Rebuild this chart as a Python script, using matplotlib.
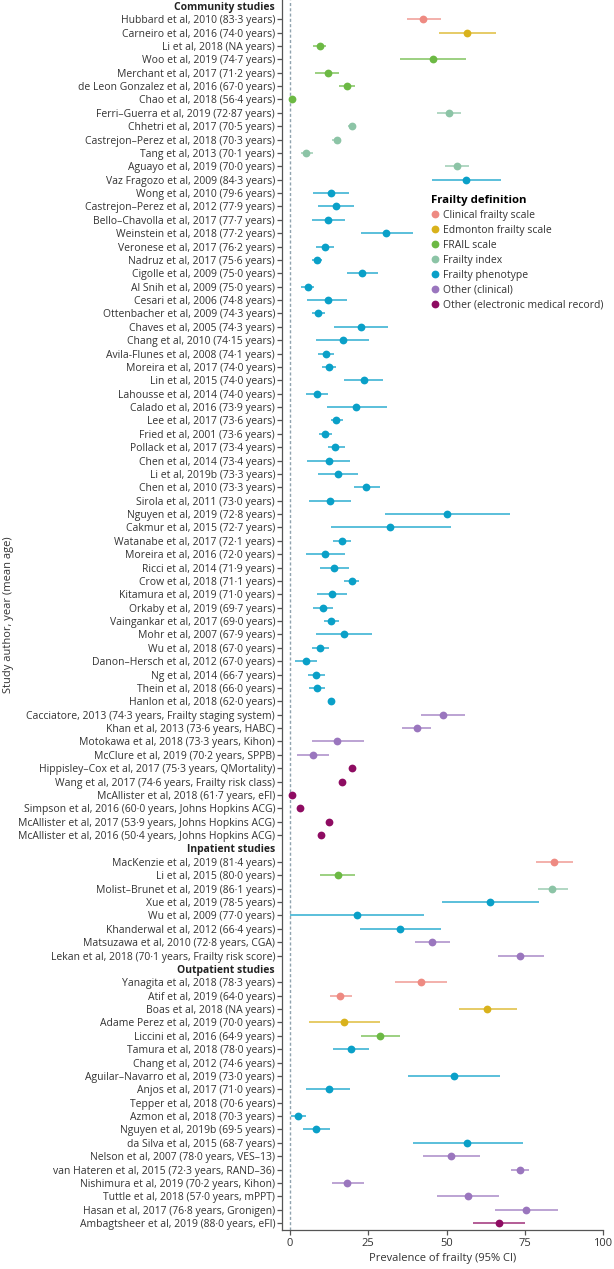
import numpy as np
import matplotlib
matplotlib.use("Agg")
import matplotlib.pyplot as plt
from matplotlib.lines import Line2D

plt.rcParams['font.family'] = ['Open Sans', 'DejaVu Sans']

definitions = ["Clinical frailty scale", "Edmonton frailty scale", "FRAIL scale",
               "Frailty index", "Frailty phenotype", "Other (clinical)",
               "Other (electronic medical record)"]
def_colors = ["#EE8A82", "#D9B21C", "#6CB944", "#8CC4A6", "#0AA0C8", "#9A76BE", "#8E0C62"]

sections = ["Community studies", "Inpatient studies", "Outpatient studies"]

studies = [
    # Community
    "Hubbard et al, 2010 (83·3 years)", "Carneiro et al, 2016 (74·0 years)",
    "Li et al, 2018 (NA years)", "Woo et al, 2019 (74·7 years)",
    "Merchant et al, 2017 (71·2 years)", "de Leon Gonzalez et al, 2016 (67·0 years)",
    "Chao et al, 2018 (56·4 years)", "Ferri–Guerra et al, 2019 (72·87 years)",
    "Chhetri et al, 2017 (70·5 years)", "Castrejon–Perez et al, 2018 (70·3 years)",
    "Tang et al, 2013 (70·1 years)", "Aguayo et al, 2019 (70·0 years)",
    "Vaz Fragozo et al, 2009 (84·3 years)", "Wong et al, 2010 (79·6 years)",
    "Castrejon–Perez et al, 2012 (77·9 years)", "Bello–Chavolla et al, 2017 (77·7 years)",
    "Weinstein et al, 2018 (77·2 years)", "Veronese et al, 2017 (76·2 years)",
    "Nadruz et al, 2017 (75·6 years)", "Cigolle et al, 2009 (75·0 years)",
    "Al Snih et al, 2009 (75·0 years)", "Cesari et al, 2006 (74·8 years)",
    "Ottenbacher et al, 2009 (74·3 years)", "Chaves et al, 2005 (74·3 years)",
    "Chang et al, 2010 (74·15 years)", "Avila-Flunes et al, 2008 (74·1 years)",
    "Moreira et al, 2017 (74·0 years)", "Lin et al, 2015 (74·0 years)",
    "Lahousse et al, 2014 (74·0 years)", "Calado et al, 2016 (73·9 years)",
    "Lee et al, 2017 (73·6 years)", "Fried et al, 2001 (73·6 years)",
    "Pollack et al, 2017 (73·4 years)", "Chen et al, 2014 (73·4 years)",
    "Li et al, 2019b (73·3 years)", "Chen et al, 2010 (73·3 years)",
    "Sirola et al, 2011 (73·0 years)", "Nguyen et al, 2019 (72·8 years)",
    "Cakmur et al, 2015 (72·7 years)", "Watanabe et al, 2017 (72·1 years)",
    "Moreira et al, 2016 (72·0 years)", "Ricci et al, 2014 (71·9 years)",
    "Crow et al, 2018 (71·1 years)", "Kitamura et al, 2019 (71·0 years)",
    "Orkaby et al, 2019 (69·7 years)", "Vaingankar et al, 2017 (69·0 years)",
    "Mohr et al, 2007 (67·9 years)", "Wu et al, 2018 (67·0 years)",
    "Danon–Hersch et al, 2012 (67·0 years)", "Ng et al, 2014 (66·7 years)",
    "Thein et al, 2018 (66·0 years)", "Hanlon et al, 2018 (62·0 years)",
    "Cacciatore, 2013 (74·3 years, Frailty staging system)",
    "Khan et al, 2013 (73·6 years, HABC)", "Motokawa et al, 2018 (73·3 years, Kihon)",
    "McClure et al, 2019 (70·2 years, SPPB)",
    "Hippisley–Cox et al, 2017 (75·3 years, QMortality)",
    "Wang et al, 2017 (74·6 years, Frailty risk class)",
    "McAllister et al, 2018 (61·7 years, eFI)",
    "Simpson et al, 2016 (60·0 years, Johns Hopkins ACG)",
    "McAllister et al, 2017 (53·9 years, Johns Hopkins ACG)",
    "McAllister et al, 2016 (50·4 years, Johns Hopkins ACG)",
    # Inpatient
    "MacKenzie et al, 2019 (81·4 years)", "Li et al, 2015 (80·0 years)",
    "Molist–Brunet et al, 2019 (86·1 years)", "Xue et al, 2019 (78·5 years)",
    "Wu et al, 2009 (77·0 years)", "Khanderwal et al, 2012 (66·4 years)",
    "Matsuzawa et al, 2010 (72·8 years, CGA)",
    "Lekan et al, 2018 (70·1 years, Frailty risk score)",
    # Outpatient
    "Yanagita et al, 2018 (78·3 years)", "Atif et al, 2019 (64·0 years)",
    "Boas et al, 2018 (NA years)", "Adame Perez et al, 2019 (70·0 years)",
    "Liccini et al, 2016 (64·9 years)", "Tamura et al, 2018 (78·0 years)",
    "Chang et al, 2012 (74·6 years)", "Aguilar–Navarro et al, 2019 (73·0 years)",
    "Anjos et al, 2017 (71·0 years)", "Tepper et al, 2018 (70·6 years)",
    "Azmon et al, 2018 (70·3 years)", "Nguyen et al, 2019b (69·5 years)",
    "da Silva et al, 2015 (68·7 years)", "Nelson et al, 2007 (78·0 years, VES–13)",
    "van Hateren et al, 2015 (72·3 years, RAND–36)",
    "Nishimura et al, 2019 (70·2 years, Kihon)", "Tuttle et al, 2018 (57·0 years, mPPT)",
    "Hasan et al, 2017 (76·8 years, Gronigen)", "Ambagtsheer et al, 2019 (88·0 years, eFI)",
]

study_section = [0] * 62 + [1] * 8 + [2] * 19

study_definition = (
    [0, 1, 2, 2, 2, 2, 2, 3, 3, 3, 3, 3] + [4] * 40 + [5, 5, 5, 5] + [6] * 6 +
    [0, 2, 3, 4, 4, 4, 5, 5] +
    [0, 0, 1, 1, 2, 4, 4, 4, 4, 4, 4, 4, 4, 5, 5, 5, 5, 5, 6]
)

nan = np.nan
prevalence = [
    42.5, 56.5, 9.6, 45.6, 12.0, 18.3, 0.6, 50.9, 19.8, 15.0, 5.2, 53.4,
    56.2, 13.1, 14.6, 12.2, 30.8, 11.1, 8.7, 23.1, 5.7, 12.0, 9.1, 22.6,
    16.8, 11.5, 12.3, 23.6, 8.5, 21.2, 14.7, 11.2, 14.5, 12.3, 15.2, 24.4,
    12.7, 50.2, 32.0, 16.7, 11.3, 14.1, 19.7, 13.5, 10.6, 13.2, 17.2, 9.5,
    5.0, 8.4, 8.6, 13.1, 48.8, 40.5, 15.0, 7.2, 19.7, 16.6, 0.5, 3.1, 12.5, 10.0,
    84.4, 15.2, 83.8, 64.0, 21.4, 35.3, 45.5, 73.6,
    41.8, 16.1, 63.0, 17.2, 28.8, 19.6, nan, 52.4, 12.3, nan, 2.7, 8.4, 56.6,
    51.4, 73.4, 18.3, 57.0, 75.4, 66.7,
]
lower = [
    37.4, 47.6, 7.5, 35.2, 8.1, 15.7, 0.3, 47.1, 18.5, 13.5, 3.4, 49.6,
    45.3, 7.5, 9.0, 6.9, 22.7, 8.4, 7.1, 18.1, 3.6, 5.5, 7.0, 14.1,
    8.4, 9.0, 10.2, 17.3, 5.0, 11.7, 13.1, 9.4, 12.0, 5.5, 9.0, 20.4,
    6.1, 30.5, 13.0, 13.8, 5.2, 9.5, 17.3, 8.6, 7.5, 10.7, 8.4, 6.9,
    1.6, 5.6, 6.2, 12.6, 41.8, 35.9, 6.9, 2.1, 19.4, 16.3, 0.4, 2.8, 12.2, 9.7,
    78.6, 9.6, 79.1, 48.5, 0.0, 22.3, 39.9, 66.3,
    33.4, 12.7, 53.9, 6.0, 22.7, 13.8, nan, 37.8, 5.2, nan, 0.4, 4.2, 39.3,
    42.4, 70.6, 13.3, 47.1, 65.5, 58.4,
]
upper = [
    48.1, 65.7, 11.6, 56.2, 15.8, 20.9, 0.9, 54.5, 21.2, 16.3, 7.2, 57.1,
    67.5, 19.0, 20.3, 17.7, 39.3, 14.0, 10.3, 28.1, 7.7, 18.3, 11.3, 31.2,
    25.2, 14.0, 14.6, 29.7, 12.0, 30.9, 16.8, 13.3, 17.5, 19.1, 21.6, 28.6,
    19.5, 70.2, 51.5, 19.6, 17.6, 19.0, 21.9, 18.3, 13.7, 15.8, 26.3, 12.3,
    8.6, 11.1, 11.1, 13.6, 55.9, 45.1, 23.6, 12.5, 20.0, 16.9, 0.6, 3.4, 12.8, 10.3,
    90.4, 20.8, 88.7, 79.6, 42.8, 48.4, 51.2, 81.0,
    50.1, 19.7, 72.6, 28.6, 35.2, 25.2, nan, 67.1, 19.3, nan, 5.2, 12.7, 74.4,
    60.6, 76.3, 23.6, 66.8, 85.7, 75.1,
]

x_ticks = [0, 25, 50, 75, 100]

# ---- build rows (headers + studies) ----
row_labels, row_is_header, row_study = [], [], []
for s_idx, s_name in enumerate(sections):
    row_labels.append(s_name)
    row_is_header.append(True)
    row_study.append(None)
    for i, sec in enumerate(study_section):
        if sec == s_idx:
            row_labels.append(studies[i])
            row_is_header.append(False)
            row_study.append(i)

n_rows = len(row_labels)
W, H = 614, 1269
fig = plt.figure(figsize=(W / 100, H / 100), dpi=100)
ax = fig.add_axes([282 / W, 39 / H, (603 - 282) / W, 1230 / H])

ax.axvline(0, color="#8FA3AE", lw=1.0, ls=(0, (2.2, 1.6)), zorder=1)

for r, si in enumerate(row_study):
    if si is None or np.isnan(prevalence[si]):
        continue
    c = def_colors[study_definition[si]]
    ax.plot([lower[si], upper[si]], [r, r], color=c, lw=1.1, alpha=0.85,
            solid_capstyle="butt", zorder=2)
    ax.plot(prevalence[si], r, "o", color=c, ms=5.6, mec="none", zorder=3)

ax.set_xlim(-2.56, 100)
ax.set_ylim(n_rows - 1 + 0.52, -0.43)
ax.set_yticks(range(n_rows))
ax.set_yticklabels(row_labels)
ax.set_xticks(x_ticks)
ax.tick_params(axis="y", length=3.5, width=0.9, pad=1.5, labelsize=7.5,
               colors="#555555", labelcolor="#333333")
ax.tick_params(axis="x", length=3.5, width=0.9, pad=2, labelsize=8,
               colors="#555555", labelcolor="#333333")
for r, (lab, tk) in enumerate(zip(ax.get_yticklabels(), ax.yaxis.get_major_ticks())):
    if row_is_header[r]:
        lab.set_fontweight("bold")
        lab.set_color("#222222")
        tk.tick1line.set_visible(False)

for sp in ["top", "right"]:
    ax.spines[sp].set_visible(False)
for sp in ["left", "bottom"]:
    ax.spines[sp].set_color("#555555")
    ax.spines[sp].set_linewidth(0.9)

ax.set_xlabel("Prevalence of frailty (95% CI)", fontsize=8, color="#333333", labelpad=3)
ax.set_ylabel("Study author, year (mean age)", fontsize=8, color="#333333")
ax.yaxis.set_label_coords((14 - 282) / 321, 0.5)

handles = [Line2D([0], [0], marker="o", ls="none", color=c, ms=5.6, mec="none")
           for c in def_colors]
leg = ax.legend(handles, definitions, title="Frailty definition", loc="upper left",
                bbox_to_anchor=(431 / W, 1 - 195 / H), bbox_transform=fig.transFigure,
                frameon=False, fontsize=7.5, handlelength=0.8, handletextpad=0.35,
                labelspacing=0.38, borderpad=0, borderaxespad=0,
                title_fontproperties={"weight": "bold", "size": 8.2}, alignment="left")
for t in leg.get_texts():
    t.set_color("#333333")

fig.savefig("out.png", dpi=100)
